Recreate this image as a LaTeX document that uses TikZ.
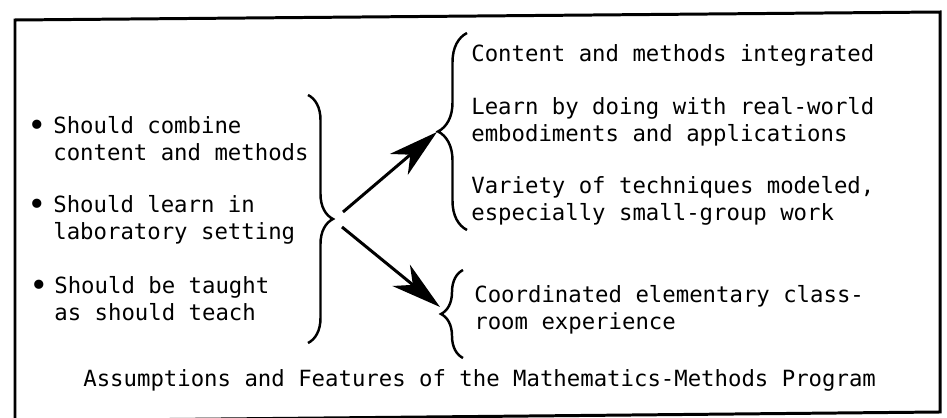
\documentclass[tikz,border=0pt]{standalone}
\usepackage{fontspec}
\setmainfont{DejaVu Sans Mono}
\usetikzlibrary{arrows.meta,decorations.pathreplacing}

\newcommand{\fsz}{\fontsize{12.7pt}{15.6pt}\selectfont}

\tikzset{
  item/.style={anchor=base west, align=left, inner sep=0pt, font=\fsz},
  dot/.style={anchor=base, inner sep=0pt, font=\fontsize{18pt}{18pt}\selectfont},
  curly/.style={decorate, line width=1.4pt, decoration={brace, amplitude=#1}},
  arr/.style={line width=1.7pt, -{Stealth[length=1.0cm, width=0.55cm, inset=0.3cm]}},
}

\begin{document}
\begin{tikzpicture}[x=0.02cm, y=-0.02cm]
  \useasboundingbox (0,0) rectangle (947,418);
%
  % frame (scan is slightly tilted)
  \draw[line width=1.7pt] (15,20) -- (940,12) -- (940,412) -- (15,421) -- cycle;
%
  % assumptions (base = last line)
  \node[dot]  (d1) at (37,137) {\textbullet};
  \node[item] (a1) at (53,161) {Should combine\\content and methods};
  \node[dot]  (d2) at (37,216) {\textbullet};
  \node[item] (a2) at (53,240) {Should learn in\\laboratory setting};
  \node[dot]  (d3) at (39,297) {\textbullet};
  \node[item] (a3) at (54,321) {Should be taught\\as should teach};
%
  % features
  \node[item] (f1) at (471,62)  {Content and methods integrated};
  \node[item] (f2) at (471,142) {Learn by doing with real-world\\embodiments and applications};
  \node[item] (f3) at (471,221) {Variety of techniques modeled,\\especially small-group work};
  \node[item] (f4) at (474,330) {Coordinated elementary class-\\room experience};
%
  \node[item] (cap) at (83,387) {Assumptions and Features of the Mathematics-Methods Program};
%
  % braces
  \draw[curly=0.5cm]  (308,95)  -- (308,343);
  \draw[curly=0.58cm] (467,230) -- (467,33);
  \draw[curly=0.44cm] (463,358) -- (463,270);
%
  \coordinate (srcA) at (343,212);
  \coordinate (srcB) at (342,227);
  \coordinate (tipA) at (437,132);
  \coordinate (tipB) at (440,307);
  \draw[arr] (srcA) -- (tipA);
  \draw[arr] (srcB) -- (tipB);
\end{tikzpicture}
\end{document}
